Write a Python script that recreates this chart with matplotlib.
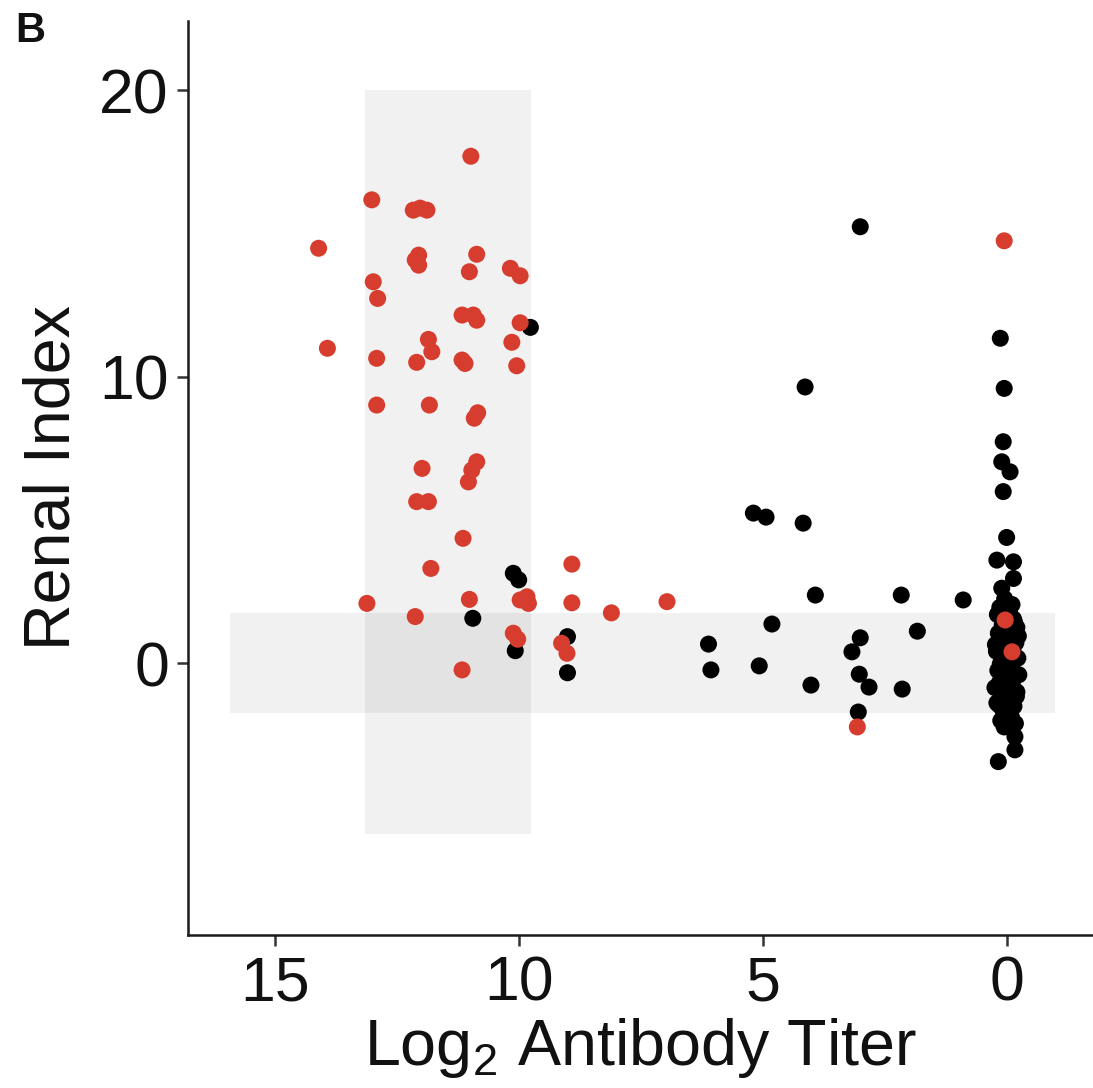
import matplotlib
matplotlib.use("Agg")
import matplotlib.pyplot as plt
from matplotlib.patches import Rectangle

plt.rcParams['font.family'] = ['Liberation Sans', 'DejaVu Sans']
plt.rcParams['mathtext.fontset'] = 'custom'
plt.rcParams['mathtext.rm'] = 'Liberation Sans'
plt.rcParams['mathtext.it'] = 'Liberation Sans:italic'

# ---- data ----
red_x = [10.99, 13.02, 12.17, 12.03, 11.89, 14.11, 12.06, 12.13, 12.06, 10.87,
         11.02, 10.18, 9.98, 12.99, 12.90, 11.17, 10.94, 10.87, 9.98, 10.15,
         13.93, 11.86, 11.79, 12.92, 12.10, 11.17, 11.11, 10.05, 12.92, 11.84,
         10.85, 10.92, 11.99, 10.87, 10.97, 11.04, 12.10, 11.86, 11.15, 11.81,
         13.12, 11.02, 9.98, 9.84, 9.81, 8.92, 8.92, 12.13, 10.12, 10.03,
         9.13, 9.02, 11.17, 6.97, 8.11, 0.06, 0.04, -0.10, 3.07]
red_y = [17.69, 16.17, 15.81, 15.88, 15.81, 14.48, 14.24, 14.07, 13.89, 14.27,
         13.66, 13.78, 13.52, 13.31, 12.73, 12.15, 12.15, 11.97, 11.88, 11.20,
         10.99, 11.30, 10.87, 10.64, 10.50, 10.58, 10.46, 10.38, 9.01, 9.01,
         8.74, 8.55, 6.80, 7.03, 6.74, 6.33, 5.64, 5.64, 4.36, 3.31,
         2.09, 2.23, 2.21, 2.32, 2.09, 3.46, 2.11, 1.63, 1.05, 0.84,
         0.70, 0.35, -0.23, 2.15, 1.76, 14.74, 1.51, 0.40, -2.22]

black_x = [9.77, 10.95, 10.12, 10.01, 10.08, 9.01, 9.01, 6.12, 6.07, 5.08,
           4.82, 4.02, 4.14, 5.20, 4.94, 4.18, 3.93, 2.17, 1.84, 3.01,
           3.18, 3.03, 2.83, 2.15, 3.05, 3.01, 0.90, 0.14, 0.06, 0.08,
           0.11, -0.06, 0.08, 0.01, 0.21, -0.13, -0.13, 0.11, -0.16, -0.16, 0.18,
           0.05, -0.10, 0.15, -0.05, 0.20, 0.00, -0.15, 0.10, -0.20, 0.05,
           0.18, -0.08, 0.12, -0.18, 0.02, -0.12, 0.22, 0.08, -0.22, 0.00,
           0.14, -0.06, 0.19, -0.16, 0.07, -0.02, 0.16, -0.11, 0.04, -0.20,
           0.11, -0.04, 0.21, -0.14, 0.09, 0.00, -0.09, 0.13, -0.17, 0.06,
           0.24, -0.24, 0.03, -0.19, 0.17, -0.07, 0.25, -0.23, 0.10, -0.13]
black_y = [11.72, 1.57, 3.14, 2.91, 0.44, 0.93, -0.33, 0.67, -0.23, -0.09,
           1.37, -0.76, 9.64, 5.24, 5.10, 4.89, 2.38, 2.38, 1.12, 0.89,
           0.40, -0.38, -0.83, -0.90, -1.70, 15.23, 2.21, 11.34, 9.59, 7.73,
           7.03, 6.68, 5.99, 4.39, 3.60, 3.54, 2.96, 2.62, -2.56, -3.02, -3.43,
           2.25, 2.05, 1.95, 1.80, 1.70, 1.62, 1.45, 1.35, 1.25, 1.15,
           1.05, 0.95, 0.85, 0.72, 0.60, 0.50, 0.42, 0.30, 0.18, 0.08,
           -0.02, -0.12, -0.25, -0.35, -0.45, -0.55, -0.68, -0.78, -0.90, -1.00,
           -1.10, -1.25, -1.38, -1.50, -1.62, -1.75, -1.88, -2.00, -2.10, -2.22,
           0.65, -0.40, 1.10, -1.15, -1.45, 0.25, -0.85, 0.95, -1.95, 1.55]

# shaded reference bands (x range, y range)
hband_x = [15.92, -0.98]
hband_y = [-1.73, 1.75]
vband_x = [13.16, 9.76]
vband_y = [-5.95, 20.0]

x_ticks = [15, 10, 5, 0]
y_ticks = [0, 10, 20]

# ---- figure ----
fig = plt.figure(figsize=(10.93, 10.88), dpi=100)
ax = fig.add_axes([0.1723, 0.1406, 0.8277, 0.8404])

band_kw = dict(facecolor='black', alpha=0.055, edgecolor='none', zorder=0)
ax.add_patch(Rectangle((min(hband_x), hband_y[0]), abs(hband_x[0] - hband_x[1]),
                       hband_y[1] - hband_y[0], **band_kw))
ax.add_patch(Rectangle((min(vband_x), vband_y[0]), abs(vband_x[0] - vband_x[1]),
                       vband_y[1] - vband_y[0], **band_kw))

ax.scatter(black_x, black_y, s=150, color='black', edgecolors='none', zorder=2)
ax.scatter(red_x, red_y, s=150, color='#D63D2E', edgecolors='none', zorder=3)

ax.set_xlim(16.78, -1.76)
ax.set_ylim(-9.48, 22.42)
ax.set_xticks(x_ticks)
ax.set_yticks(y_ticks)

for side in ['top', 'right']:
    ax.spines[side].set_visible(False)
for side in ['left', 'bottom']:
    ax.spines[side].set_linewidth(1.8)
    ax.spines[side].set_color('#1a1a1a')

ax.tick_params(axis='both', labelsize=45, length=8, width=1.8,
               color='#333333', labelcolor='#111111', pad=6)

ax.set_xlabel(r'Log$_\mathrm{2}$ Antibody Titer', fontsize=46.5, color='#111111', labelpad=2)
ax.set_ylabel('Renal Index', fontsize=46.5, color='#111111', labelpad=12)

fig.text(30 / 1093, 1 - 31 / 1088, 'B', fontsize=30, fontweight='bold',
         ha='center', va='center', color='#111111')

fig.savefig('out.png', dpi=100)
